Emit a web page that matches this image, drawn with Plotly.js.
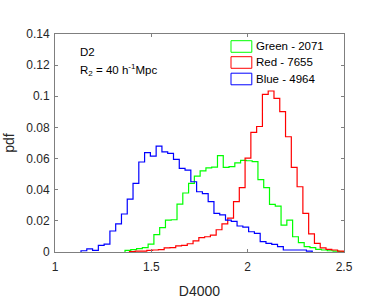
<!DOCTYPE html>
<html>
<head>
<meta charset="utf-8">
<script src="https://cdn.plot.ly/plotly-3.0.1.min.js"></script>
<style>
  html, body { margin: 0; padding: 0; background: #ffffff; }
  #chart { width: 382px; height: 305px; }
</style>
</head>
<body>
<div id="chart"></div>
<script>
// ---- Data ----
const binWidth = 0.03;

const greenStart = 1.3633;
const greenPdf = [0.001, 0.0015, 0.0022, 0.0028, 0.005, 0.0112, 0.0157, 0.0205, 0.0207, 0.0308,
  0.0379, 0.0441, 0.0487, 0.0521, 0.054, 0.0545, 0.0619, 0.0543, 0.0548, 0.0573,
  0.0588, 0.0586, 0.058, 0.0465, 0.0413, 0.0306, 0.0295, 0.0173, 0.0205, 0.0098,
  0.006, 0.0034, 0.0028, 0.0017, 0.0013, 0.0008, 0.0005, 0.0003];

const redStart = 1.3866;
const redPdf = [0.0003, 0.0005, 0.0005, 0.001, 0.0013, 0.0015, 0.0026, 0.0028, 0.0039, 0.0043,
  0.0053, 0.0071, 0.0092, 0.0098, 0.0109, 0.0143, 0.0181, 0.0218, 0.0323, 0.0413,
  0.0603, 0.0768, 0.0806, 0.1012, 0.1034, 0.0986, 0.0901, 0.074, 0.0544, 0.0419,
  0.0248, 0.0116, 0.0056, 0.0026, 0.0017, 0.0013, 0.0006];

const blueStart = 1.135;
const bluePdf = [0.0008, 0.002, 0.001, 0.0043, 0.005, 0.0135, 0.018, 0.0244, 0.034, 0.0441,
  0.0578, 0.0638, 0.0616, 0.068, 0.0643, 0.0633, 0.0595, 0.0537, 0.0526, 0.0451,
  0.0387, 0.0375, 0.0323, 0.0248, 0.0238, 0.0205, 0.0197, 0.0167, 0.016, 0.013,
  0.012, 0.0066, 0.0056, 0.0049, 0.0034, 0.0013, 0.0013, 0.0013, 0.0013, 0.0006];

const seriesNames = ['Green - 2071', 'Red - 7655', 'Blue - 4964'];
const seriesColors = ['#00ff00', '#ff0000', '#0000ff'];

const xTickVals = [1, 1.5, 2, 2.5];
const xTickText = ['1', '1.5', '2', '2.5'];
const yTickVals = [0, 0.02, 0.04, 0.06, 0.08, 0.1, 0.12, 0.14];
const yTickText = ['0', '0.02', '0.04', '0.06', '0.08', '0.1', '0.12', '0.14'];

const xLabel = 'D4000';
const yLabel = 'pdf';
const note1 = 'D2';
const note2 = 'R<sub>2</sub> = 40 h<sup>-1</sup>Mpc';

// ---- Build stair outlines (histogram 'stairs' style) ----
function stairs(start, width, vals) {
  const x = [start];
  const y = [0];
  for (let i = 0; i < vals.length; i++) {
    x.push(start + i * width);
    y.push(vals[i]);
  }
  x.push(start + vals.length * width);
  y.push(0);
  return { x, y };
}

const starts = [greenStart, redStart, blueStart];
const pdfs = [greenPdf, redPdf, bluePdf];

const traces = pdfs.map((vals, i) => {
  const s = stairs(starts[i], binWidth, vals);
  return {
    type: 'scatter',
    mode: 'lines',
    x: s.x,
    y: s.y,
    name: seriesNames[i],
    line: { color: seriesColors[i], width: 1.2, shape: 'hv' },
    hoverinfo: 'skip',
    showlegend: false
  };
});

const FONT = 'Liberation Sans, Arial, sans-serif';

// ---- Manual legend (outlined swatches + text) ----
const legX0 = 0.609, legX1 = 0.681, legTextX = 0.689;
const legRowY = [0.9427, 0.8693, 0.7936];
const legHalfH = 0.0266;
const shapes = [];
const annotations = [];
legRowY.forEach((yc, i) => {
  shapes.push({
    type: 'rect', xref: 'paper', yref: 'paper',
    x0: legX0, x1: legX1, y0: yc - legHalfH, y1: yc + legHalfH,
    line: { color: seriesColors[i], width: 1 },
    fillcolor: 'rgba(255,255,255,0)'
  });
  annotations.push({
    xref: 'paper', yref: 'paper', x: legTextX, y: yc,
    xanchor: 'left', yanchor: 'middle', showarrow: false,
    text: seriesNames[i],
    font: { family: FONT, size: 11.5, color: '#000000' }
  });
});

annotations.push({
  xref: 'paper', yref: 'paper', x: 0.079, y: 0.917,
  xanchor: 'left', yanchor: 'middle', showarrow: false,
  text: note1,
  font: { family: FONT, size: 11.5, color: '#000000' }
});
annotations.push({
  xref: 'paper', yref: 'paper', x: 0.079, y: 0.835,
  xanchor: 'left', yanchor: 'middle', showarrow: false,
  text: note2,
  font: { family: FONT, size: 11.5, color: '#000000' }
});

const axisCommon = {
  showline: true,
  linecolor: '#7f7f7f',
  linewidth: 1,
  mirror: 'ticks',
  ticks: 'inside',
  ticklen: 3,
  tickcolor: '#7f7f7f',
  tickwidth: 1,
  showgrid: false,
  zeroline: false,
  tickfont: { family: FONT, size: 12, color: '#262626' }
};

const layout = {
  width: 382,
  height: 305,
  margin: { l: 55, r: 38, t: 34, b: 53 },
  paper_bgcolor: '#ffffff',
  plot_bgcolor: '#ffffff',
  showlegend: false,
  xaxis: Object.assign({}, axisCommon, {
    range: [1, 2.5],
    tickmode: 'array',
    tickvals: xTickVals,
    ticktext: xTickText,
    ticklabelstandoff: 4,
    title: { text: xLabel, standoff: 12,
      font: { family: FONT, size: 14, color: '#262626' } }
  }),
  yaxis: Object.assign({}, axisCommon, {
    range: [0, 0.14],
    tickmode: 'array',
    tickvals: yTickVals,
    ticktext: yTickText,
    ticklabelstandoff: 2,
    title: { text: yLabel, standoff: 8,
      font: { family: FONT, size: 14, color: '#262626' } }
  }),
  shapes: shapes,
  annotations: annotations
};

Plotly.newPlot('chart', traces, layout, { displayModeBar: false, staticPlot: true });
</script>
</body>
</html>
